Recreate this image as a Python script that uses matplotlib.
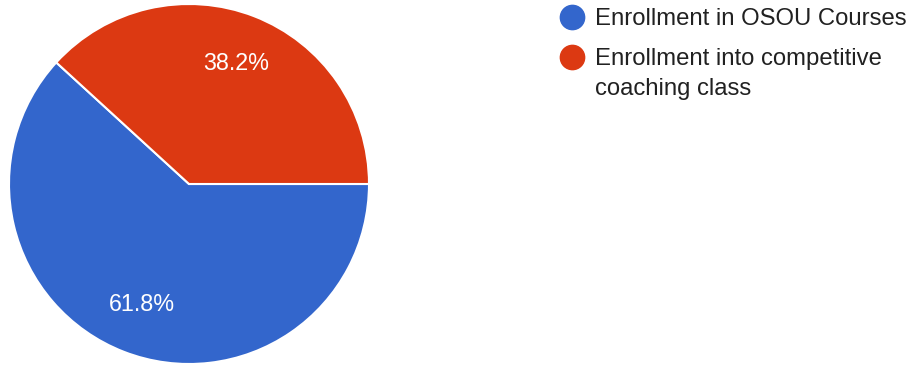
import matplotlib.pyplot as plt
from matplotlib.lines import Line2D

labels = ["Enrollment in OSOU Courses", "Enrollment into competitive\ncoaching class"]
shares = [61.8, 38.2]
colors = ["#3366cc", "#dc3912"]

plt.rcParams['font.family'] = ['Liberation Sans', 'DejaVu Sans']

fig = plt.figure(figsize=(9.15, 3.65), dpi=100)
W, H = 915, 365

# pie centre ~ (189, 184), radius ~180 px
cx, cy, r = 189, 184, 180
ax = fig.add_axes([(cx - r) / W, 1 - (cy + r) / H, 2 * r / W, 2 * r / H])
wedges, texts, autotexts = ax.pie(
    shares, colors=colors, startangle=137.52, counterclock=True,
    autopct='%1.1f%%', pctdistance=0.72,
    wedgeprops=dict(edgecolor='white', linewidth=1.5),
    textprops=dict(color='white', fontsize=16.8))
ax.set_xlim(-1, 1)
ax.set_ylim(-1, 1)
ax.set_aspect('equal')

# legend drawn by hand to match the layout
ys = [17, 57]
for lab, col, y in zip(labels, colors, ys):
    fig.add_artist(Line2D([572 / W], [1 - y / H], marker='o', markersize=17.5,
                          color=col, linestyle='none', transform=fig.transFigure))
    fig.text(595 / W, 1 - (y - 9) / H, lab, fontsize=17.2, color='#212121',
             va='top', ha='left', linespacing=1.5)

fig.savefig("out.png", dpi=100)
